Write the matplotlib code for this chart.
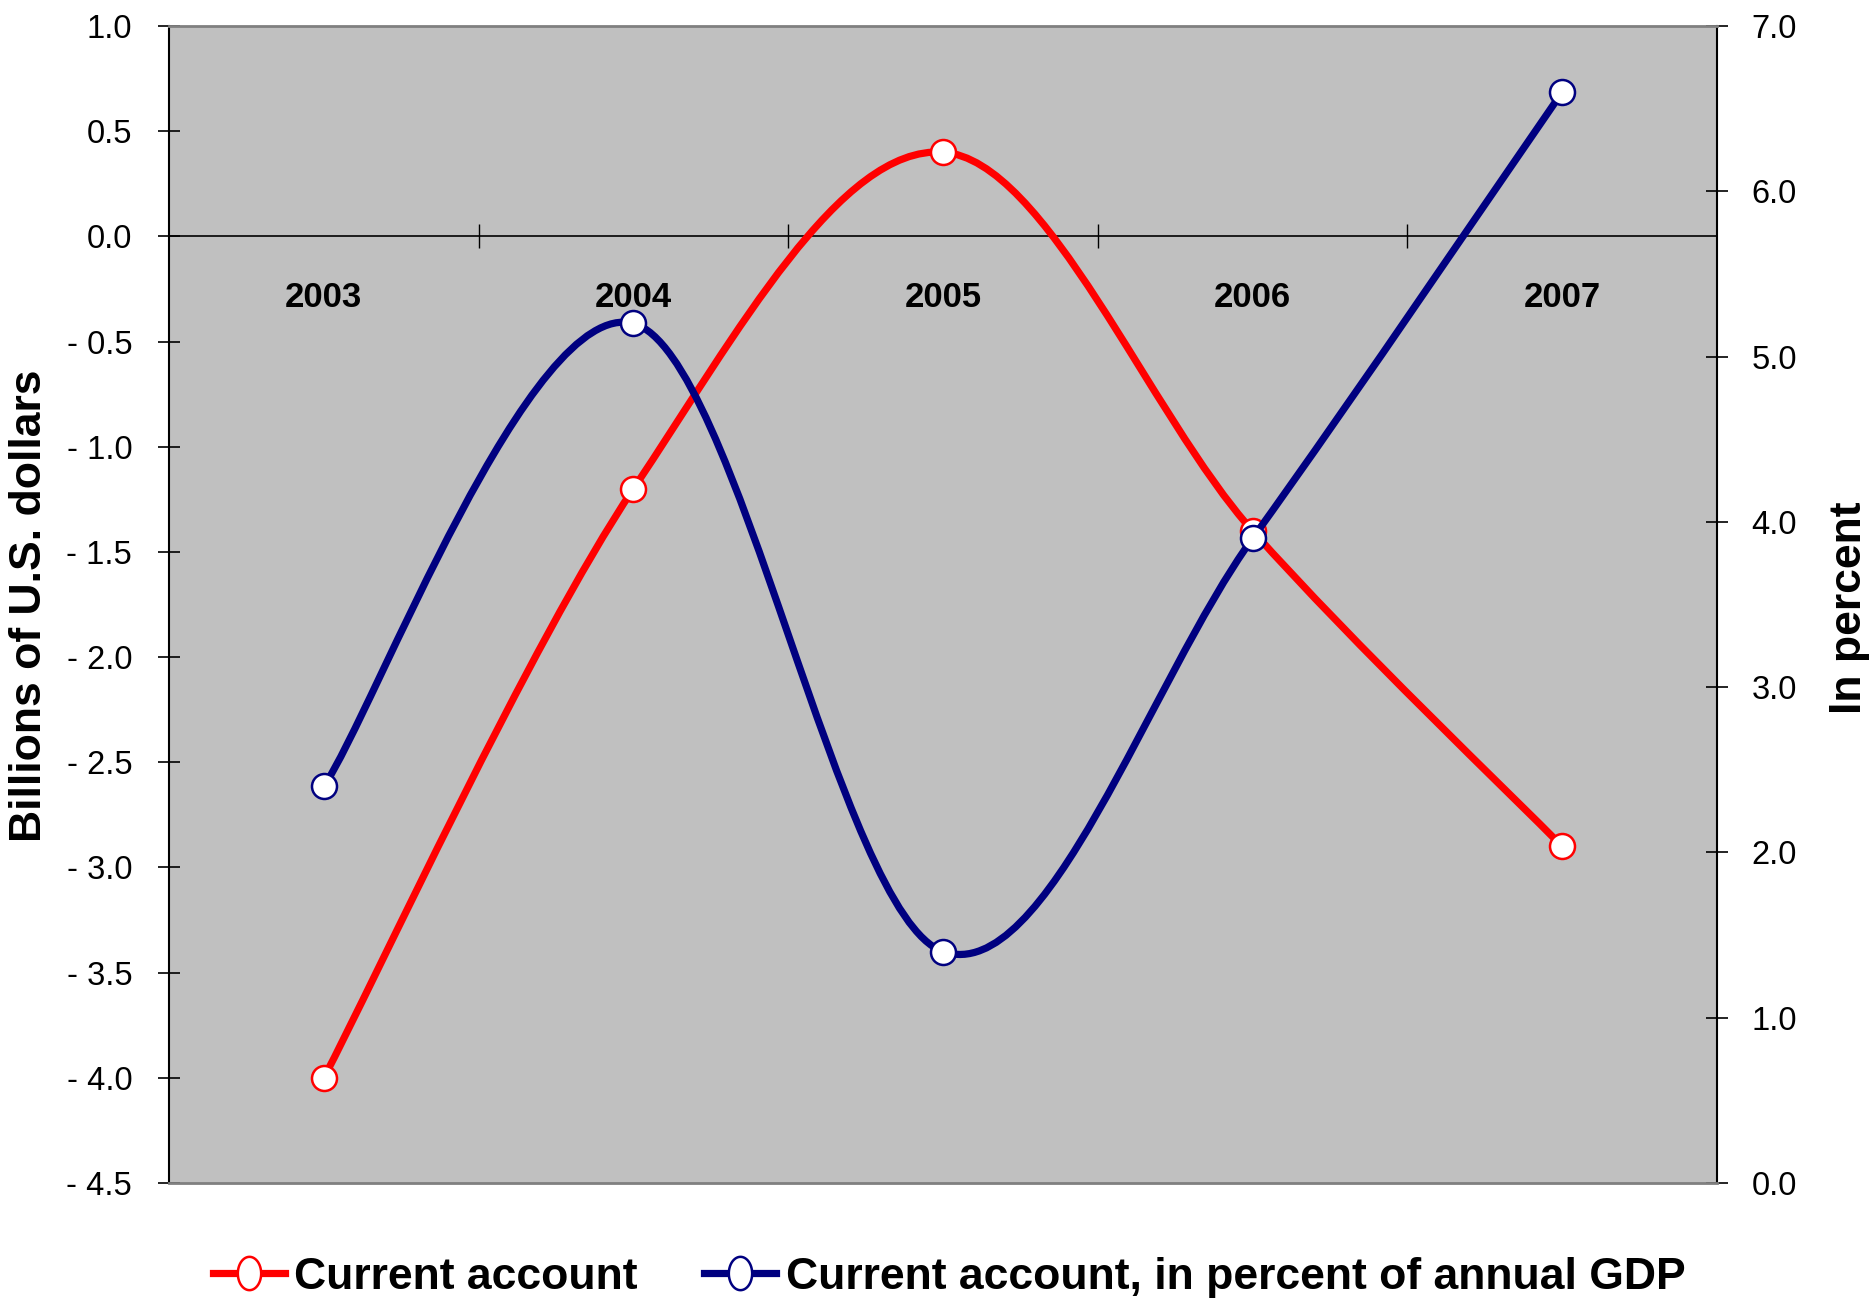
import numpy as np
import matplotlib
matplotlib.use("Agg")
import matplotlib.pyplot as plt
from matplotlib.path import Path
from matplotlib.patches import PathPatch
from matplotlib.lines import Line2D
from matplotlib.ticker import FuncFormatter, MultipleLocator, FixedLocator

plt.rcParams['font.family'] = ['Liberation Sans', 'DejaVu Sans']

years = ['2003', '2004', '2005', '2006', '2007']
current_account = [-4.0, -1.2, 0.4, -1.4, -2.9]          # billions of US$
current_account_pct = [2.4, 5.2, 1.4, 3.9, 6.6]          # in percent of GDP

RED = '#FF0000'
NAVY = '#000080'


def smooth_path(xs, ys):
    # bezier segments like a spreadsheet "smoothed line"
    pts = np.column_stack([xs, ys]).astype(float)
    n = len(pts)
    verts = [pts[0]]
    codes = [Path.MOVETO]
    for i in range(n - 1):
        p0 = pts[max(i - 1, 0)]
        p1 = pts[i]
        p2 = pts[i + 1]
        p3 = pts[min(i + 2, n - 1)]
        verts += [p1 + (p2 - p0) / 6.0, p2 - (p3 - p1) / 6.0, p2]
        codes += [Path.CURVE4] * 3
    return Path(verts, codes)


# tall ellipse marker for the legend keys
t = np.linspace(0, 2 * np.pi, 60)
ellipse = Path(np.column_stack([0.7 * np.cos(t), np.sin(t)]), closed=True)

fig = plt.figure(figsize=(18.74, 13.06), dpi=100)
ax = fig.add_axes([0.0902, 0.0942, 0.8260, 0.8859])
ax2 = ax.twinx()
ax.set_zorder(1)
ax2.set_zorder(2)
ax.set_facecolor('#C0C0C0')
ax2.patch.set_visible(False)

x = np.arange(len(years))

ax.add_patch(PathPatch(smooth_path(x, current_account), fill=False,
                       edgecolor=RED, lw=5.2, capstyle='round', joinstyle='round', zorder=3))
ax.plot(x, current_account, 'o', ms=18, mfc='white', mec=RED, mew=1.8, zorder=4)

ax2.add_patch(PathPatch(smooth_path(x, current_account_pct), fill=False,
                        edgecolor=NAVY, lw=5.2, capstyle='round', joinstyle='round', zorder=3))
ax2.plot(x, current_account_pct, 'o', ms=18, mfc='white', mec=NAVY, mew=1.8, zorder=4)

ax.set_xlim(-0.5, len(years) - 0.5)
ax.set_ylim(-4.5, 1.0)
ax2.set_ylim(0, 7)

# category axis sits on the zero line
ax.spines['bottom'].set_position(('data', 0))
ax.spines['bottom'].set_color('black')
ax.spines['bottom'].set_linewidth(1.2)
ax.spines['top'].set_visible(False)
ax.spines['right'].set_visible(False)
ax.spines['left'].set_color('black')
ax.spines['left'].set_linewidth(1.5)
for s in ['top', 'bottom']:
    ax2.spines[s].set_color('#808080')
    ax2.spines[s].set_linewidth(2)
ax2.spines['left'].set_visible(False)
ax2.spines['right'].set_color('black')
ax2.spines['right'].set_linewidth(1.5)

ax.set_xticks(x)
ax.set_xticklabels(years, fontsize=25, fontweight='bold')
ax.xaxis.set_minor_locator(FixedLocator(x[:-1] + 0.5))
ax.tick_params(axis='x', which='major', length=0, pad=32)
ax.tick_params(axis='x', which='minor', direction='inout', length=17, width=1)

ax.yaxis.set_major_locator(MultipleLocator(0.5))
ax.yaxis.set_major_formatter(FuncFormatter(
    lambda v, p: f"- {abs(v):.1f}" if v < -1e-9 else f"{abs(v):.1f}"))
ax.tick_params(axis='y', direction='inout', length=16, width=1.2, labelsize=23.5, pad=18.5)

ax2.yaxis.set_major_locator(MultipleLocator(1))
ax2.yaxis.set_major_formatter(FuncFormatter(lambda v, p: f"{v:.1f}"))
ax2.tick_params(axis='y', direction='inout', length=16, width=1.2, labelsize=23.5, pad=17)

fig.text(0.016, 0.536, 'Billions of U.S. dollars', rotation=90, fontsize=32,
         fontweight='bold', ha='center', va='center')
fig.text(0.987, 0.535, 'In percent', rotation=90, fontsize=32,
         fontweight='bold', ha='center', va='center')

handles = [
    Line2D([], [], color=RED, lw=5.2, marker=ellipse, ms=24, mfc='white', mec=RED, mew=1.8),
    Line2D([], [], color=NAVY, lw=5.2, marker=ellipse, ms=24, mfc='white', mec=NAVY, mew=1.8),
]
fig.legend(handles, ['Current account', 'Current account, in percent of annual GDP'],
           loc='center', bbox_to_anchor=(0.5065, 0.022), ncol=2, frameon=False,
           prop={'weight': 'bold', 'size': 32},
           handlelength=1.62, handletextpad=0.22, columnspacing=1.5, borderpad=0)

fig.savefig('out.png', dpi=100)
